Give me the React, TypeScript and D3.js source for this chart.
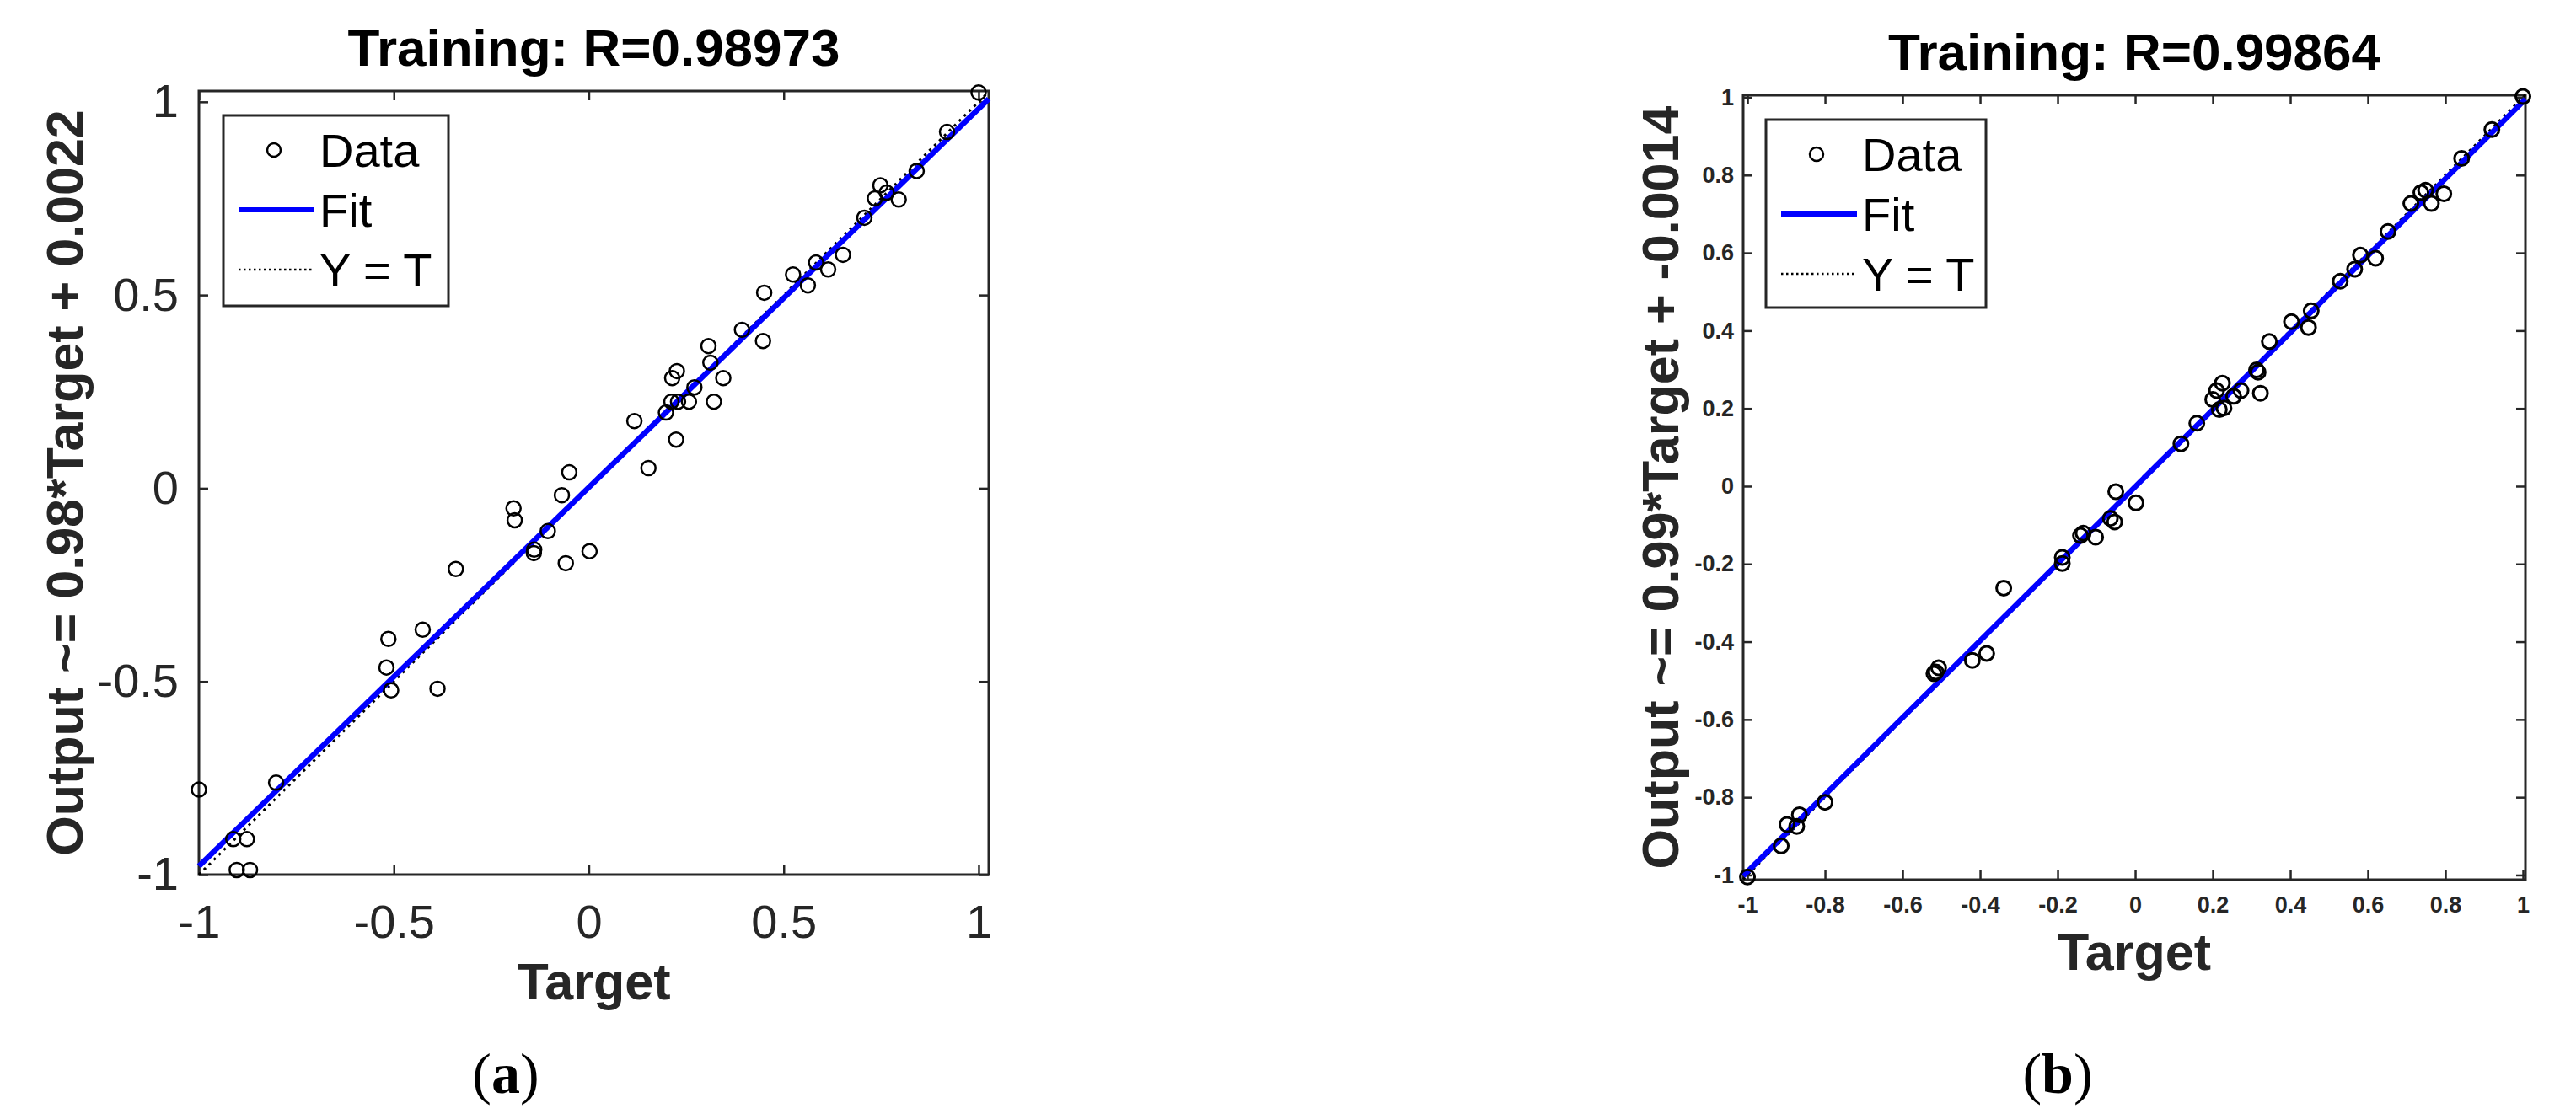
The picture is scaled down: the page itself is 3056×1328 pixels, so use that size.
import React, { useEffect, useRef } from "react";
import * as d3 from "d3";

const FONT = "'Liberation Sans', Arial, sans-serif";
const SERIF = "'Liberation Serif', 'Times New Roman', serif";
const INK = "#262626";

// panel (a): target vs output
const targetA = [
  1.0, 0.919, 0.841, 0.748, 0.734, 0.764, 0.795, 0.707, 0.652, 0.614, 0.583, 0.562, 0.524,
  0.45, 0.447, 0.393, 0.307, 0.312, 0.345, 0.321, 0.271, 0.257, 0.226, 0.214, 0.212, 0.229,
  0.198, 0.224, 0.117, 0.153, -0.05, -0.069, 0.002, -0.105, -0.059, -0.14, -0.141, -0.193,
  -0.19, -0.341, -0.426, -0.514, -0.519, -0.507, -0.388, -0.802, -1.0, -0.912, -0.877, -0.903,
  -0.869,
];
const outputA = [
  1.024, 0.922, 0.821, 0.784, 0.75, 0.765, 0.747, 0.7, 0.604, 0.566, 0.584, 0.525, 0.553,
  0.506, 0.381, 0.41, 0.368, 0.325, 0.285, 0.224, 0.261, 0.224, 0.303, 0.285, 0.224, 0.224,
  0.196, 0.126, 0.174, 0.052, 0.041, -0.018, -0.163, -0.111, -0.194, -0.159, -0.168, -0.052,
  -0.083, -0.209, -0.366, -0.39, -0.464, -0.523, -0.519, -0.762, -0.78, -0.908, -0.908, -0.988,
  -0.988,
];

// panel (b): target vs output
const targetB = [
  1.0, 0.92, 0.842, 0.796, 0.764, 0.749, 0.737, 0.711, 0.652, 0.62, 0.581, 0.566, 0.529,
  0.454, 0.447, 0.403, 0.346, 0.313, 0.317, 0.323, 0.273, 0.254, 0.225, 0.21, 0.2, 0.217,
  0.229, 0.159, 0.118, -0.05, 0.002, -0.064, -0.053, -0.134, -0.141, -0.102, -0.188, -0.188,
  -0.339, -0.383, -0.42, -0.507, -0.519, -0.514, -0.8, -0.866, -0.898, -0.873, -0.913, -1.0,
];
const outputB = [
  1.002, 0.917, 0.843, 0.752, 0.727, 0.761, 0.755, 0.727, 0.655, 0.586, 0.594, 0.558, 0.527,
  0.451, 0.408, 0.423, 0.372, 0.299, 0.293, 0.239, 0.246, 0.231, 0.265, 0.246, 0.223, 0.197,
  0.201, 0.162, 0.109, -0.014, -0.043, -0.083, -0.092, -0.121, -0.127, -0.131, -0.183, -0.199,
  -0.262, -0.43, -0.448, -0.467, -0.482, -0.478, -0.813, -0.845, -0.87, -0.875, -0.925, -1.005,
];

// fit coefficients (slope, offset)
const fitA = [0.98, 0.0022];
const fitB = [0.99, -0.0014];

// axis limits
const xLimA = [-1, 1.026];
const yLimA = [-1, 1.028];
const xLimB = [-1.011, 1.0065];
const yLimB = [-1.012, 1.0054];

// tick values
const ticksA = [-1, -0.5, 0, 0.5, 1];
const ticksB = [-1, -0.8, -0.6, -0.4, -0.2, 0, 0.2, 0.4, 0.6, 0.8, 1];

const legendLabels = ["Data", "Fit", "Y = T"];

type AxisProps = {
  scale: d3.ScaleLinear<number, number>;
  orient: "bottom" | "top" | "left" | "right";
  transform: string;
  values: number[];
  labels: boolean;
  fontSize: number;
  fontWeight: string;
  padding: number;
};

const Axis = ({ scale, orient, transform, values, labels, fontSize, fontWeight, padding }: AxisProps) => {
  const ref = useRef<SVGGElement>(null);

  useEffect(() => {
    const make =
      orient === "bottom"
        ? d3.axisBottom(scale)
        : orient === "top"
        ? d3.axisTop(scale)
        : orient === "left"
        ? d3.axisLeft(scale)
        : d3.axisRight(scale);
    const gen = make
      .tickValues(values)
      .tickSize(-11)
      .tickPadding(padding)
      .tickFormat((d) => (labels ? String(d) : ""));
    const g = d3.select(ref.current);
    g.call(gen as any);
    g.select(".domain").remove();
    g.attr("font-family", FONT)
      .attr("font-size", fontSize)
      .attr("font-weight", fontWeight)
      .attr("color", INK);
    g.selectAll("line").attr("stroke-width", 2.5);
  }, [scale, orient, values, labels, fontSize, fontWeight, padding]);

  return <g ref={ref} transform={transform} />;
};

type PanelProps = {
  target: number[];
  output: number[];
  fit: number[];
  xLim: number[];
  yLim: number[];
  ticks: number[];
  box: { x0: number; x1: number; y0: number; y1: number };
  tickFont: { size: number; weight: string; padX: number; padY: number };
  title: string;
  titleY: number;
  yLabel: string;
  yLabelX: number;
  xLabelY: number;
  legend: { x: number; y: number; w: number; h: number };
  tag: string;
  tagX: number;
  markerStroke: number;
};

const Panel = (p: PanelProps) => {
  const { box } = p;
  const x = d3.scaleLinear().domain(p.xLim).range([box.x0, box.x1]);
  const y = d3.scaleLinear().domain(p.yLim).range([box.y1, box.y0]);
  const line = d3
    .line<number[]>()
    .x((d) => x(d[0]))
    .y((d) => y(d[1]));
  const fitPts = p.xLim.map((t) => [t, p.fit[0] * t + p.fit[1]]);
  const idPts = p.xLim.map((t) => [t, t]);
  const cx = (box.x0 + box.x1) / 2;
  const cy = (box.y0 + box.y1) / 2;
  const lg = p.legend;
  const rowY = [41, 112, 183].map((o) => lg.y + o);

  return (
    <g>
      <rect
        x={box.x0}
        y={box.y0}
        width={box.x1 - box.x0}
        height={box.y1 - box.y0}
        fill="none"
        stroke={INK}
        strokeWidth={3}
      />
      <Axis scale={x} orient="bottom" transform={`translate(0,${box.y1})`} values={p.ticks} labels
        fontSize={p.tickFont.size} fontWeight={p.tickFont.weight} padding={p.tickFont.padX} />
      <Axis scale={x} orient="top" transform={`translate(0,${box.y0})`} values={p.ticks} labels={false}
        fontSize={p.tickFont.size} fontWeight={p.tickFont.weight} padding={0} />
      <Axis scale={y} orient="left" transform={`translate(${box.x0},0)`} values={p.ticks} labels
        fontSize={p.tickFont.size} fontWeight={p.tickFont.weight} padding={p.tickFont.padY} />
      <Axis scale={y} orient="right" transform={`translate(${box.x1},0)`} values={p.ticks} labels={false}
        fontSize={p.tickFont.size} fontWeight={p.tickFont.weight} padding={0} />

      <path d={line(idPts) || ""} fill="none" stroke="#000" strokeWidth={3} strokeDasharray="3 5.3" />
      <path d={line(fitPts) || ""} fill="none" stroke="#0000ff" strokeWidth={6.5} />
      {p.target.map((t, i) => (
        <circle key={i} cx={x(t)} cy={y(p.output[i])} r={8.5} fill="none" stroke="#000"
          strokeWidth={p.markerStroke} />
      ))}

      <rect x={lg.x} y={lg.y} width={lg.w} height={lg.h} fill="#fff" stroke={INK} strokeWidth={3} />
      <circle cx={lg.x + 60} cy={rowY[0]} r={8} fill="none" stroke="#000" strokeWidth={2.5} />
      <line x1={lg.x + 18} x2={lg.x + 108} y1={rowY[1]} y2={rowY[1]} stroke="#0000ff" strokeWidth={6} />
      <line x1={lg.x + 18} x2={lg.x + 108} y1={rowY[2]} y2={rowY[2]} stroke="#000" strokeWidth={2.5}
        strokeDasharray="2.5 3.5" />
      {legendLabels.map((s, i) => (
        <text key={s} x={lg.x + 114} y={rowY[i] + 20} fontFamily={FONT} fontSize={56} fill="#000">
          {s}
        </text>
      ))}

      <text x={cx} y={p.titleY} textAnchor="middle" fontFamily={FONT} fontSize={62} fontWeight="bold"
        fill="#000">
        {p.title}
      </text>
      <text x={cx} y={p.xLabelY} textAnchor="middle" fontFamily={FONT} fontSize={61} fontWeight="bold"
        fill={INK}>
        Target
      </text>
      <text transform={`translate(${p.yLabelX},${cy}) rotate(-90)`} textAnchor="middle" fontFamily={FONT}
        fontSize={61} fontWeight="bold" fill={INK}>
        {p.yLabel}
      </text>
      <text x={p.tagX} y={1297} textAnchor="middle" fontFamily={SERIF} fontSize={68} fill="#000">
        (<tspan fontWeight="bold">{p.tag}</tspan>)
      </text>
    </g>
  );
};

const App = () => (
  <svg
    width={3056}
    height={1328}
    style={{ position: "absolute", left: 0, top: 0, background: "#fff" }}
  >
    <Panel
      target={targetA}
      output={outputA}
      fit={fitA}
      xLim={xLimA}
      yLim={yLimA}
      ticks={ticksA}
      box={{ x0: 236, x1: 1173, y0: 108, y1: 1038 }}
      tickFont={{ size: 56, weight: "normal", padX: 35, padY: 24 }}
      title="Training: R=0.98973"
      titleY={78}
      yLabel="Output ~= 0.98*Target + 0.0022"
      yLabelX={98}
      xLabelY={1186}
      legend={{ x: 265, y: 137, w: 267, h: 226 }}
      tag="a"
      tagX={600}
      markerStroke={2.5}
    />
    <Panel
      target={targetB}
      output={outputB}
      fit={fitB}
      xLim={xLimB}
      yLim={yLimB}
      ticks={ticksB}
      box={{ x0: 2068, x1: 2996, y0: 113, y1: 1044 }}
      tickFont={{ size: 27, weight: "bold", padX: 20, padY: 11 }}
      title="Training: R=0.99864"
      titleY={83}
      yLabel="Output ~= 0.99*Target + -0.0014"
      yLabelX={1991}
      xLabelY={1151}
      legend={{ x: 2095, y: 142, w: 261, h: 223 }}
      tag="b"
      tagX={2441}
      markerStroke={3}
    />
  </svg>
);

export default App;
